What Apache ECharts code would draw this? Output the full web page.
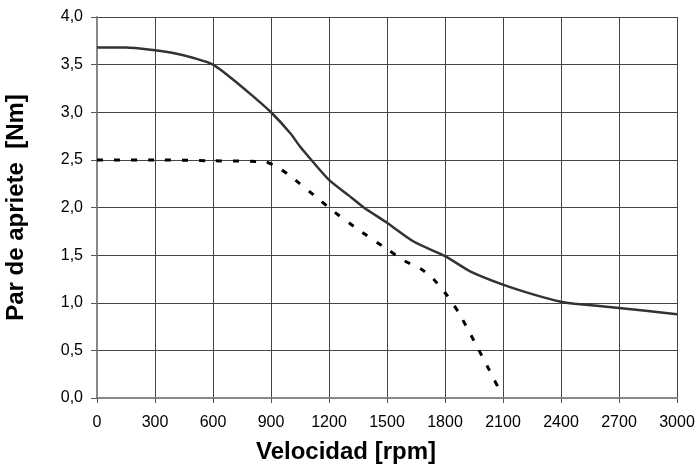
<!DOCTYPE html>
<html>
<head>
<meta charset="utf-8">
<script src="https://cdn.jsdelivr.net/npm/echarts@6/dist/echarts.min.js"></script>
<style>
  html, body { margin: 0; padding: 0; background: #fff; }
  #main { width: 699px; height: 466px; }
</style>
</head>
<body>
<div id="main"></div>
<script>
// velocidad (rpm) / par (Nm) - curva continua
var rpmSolid = [0, 150, 300, 400, 500, 600, 700, 800, 900, 1000, 1050, 1100, 1200, 1300, 1380, 1500, 1640, 1800, 1930, 2100, 2260, 2400, 2470, 2700, 3000];
var parSolid = [3.68, 3.68, 3.65, 3.62, 3.57, 3.5, 3.35, 3.18, 3.0, 2.78, 2.64, 2.52, 2.29, 2.13, 2.0, 1.84, 1.64, 1.49, 1.33, 1.19, 1.085, 1.01, 0.99, 0.945, 0.88];

// curva discontinua
var rpmDash = [0, 300, 600, 870, 930, 1000, 1140, 1210, 1350, 1510, 1590, 1680, 1740, 1810, 1870, 1950, 2030, 2085];
var parDash = [2.5, 2.5, 2.49, 2.48, 2.43, 2.33, 2.1, 1.98, 1.77, 1.55, 1.44, 1.35, 1.25, 1.08, 0.9, 0.6, 0.29, 0.07];

function pares(xs, ys) {
    var out = [];
    for (var i = 0; i < xs.length; i++) {
        out.push([xs[i], ys[i]]);
    }
    return out;
}

var fuente = '"Liberation Sans", Arial, sans-serif';

var option = {
    animation: false,
    grid: {
        left: 97,
        right: 22,
        top: 17,
        bottom: 68,
        outerBoundsMode: 'none',
        containLabel: false
    },
    xAxis: {
        type: 'value',
        min: 0,
        max: 3000,
        interval: 300,
        name: 'Velocidad [rpm]',
        nameLocation: 'middle',
        nameGap: 42,
        nameTextStyle: {
            fontFamily: fuente, fontSize: 24, fontWeight: 'bold', color: '#000',
            padding: [0, 82, 0, 0]
        },
        axisLine: { show: true, lineStyle: { color: '#888', width: 2 } },
        axisTick: { show: true, length: 5, lineStyle: { color: '#555' } },
        axisLabel: {
            fontFamily: fuente, fontSize: 16, color: '#000', margin: 17,
            formatter: function (v) { return String(v); }
        },
        splitLine: { show: true, lineStyle: { color: '#444', width: 1 } }
    },
    yAxis: {
        type: 'value',
        min: 0,
        max: 4,
        interval: 0.5,
        name: 'Par de apriete  [Nm]',
        nameLocation: 'middle',
        nameGap: 69,
        nameTextStyle: { fontFamily: fuente, fontSize: 24, fontWeight: 'bold', color: '#000' },
        axisLine: { show: true, lineStyle: { color: '#888', width: 2 } },
        axisTick: { show: true, length: 6, lineStyle: { color: '#555' } },
        axisLabel: {
            fontFamily: fuente, fontSize: 16, color: '#000', margin: 14,
            formatter: function (v) { return v.toFixed(1).replace('.', ','); }
        },
        splitLine: { show: true, lineStyle: { color: '#444', width: 1 } }
    },
    series: [
        {
            type: 'line',
            data: pares(rpmSolid, parSolid),
            smooth: 0.25,
            symbol: 'none',
            lineStyle: { color: '#333', width: 2.5 }
        },
        {
            type: 'line',
            data: pares(rpmDash, parDash),
            smooth: 0.15,
            symbol: 'none',
            lineStyle: { color: '#000', width: 3, type: [6, 11] }
        }
    ]
};

var myChart = echarts.init(document.getElementById('main'));
myChart.setOption(option);
</script>
</body>
</html>
